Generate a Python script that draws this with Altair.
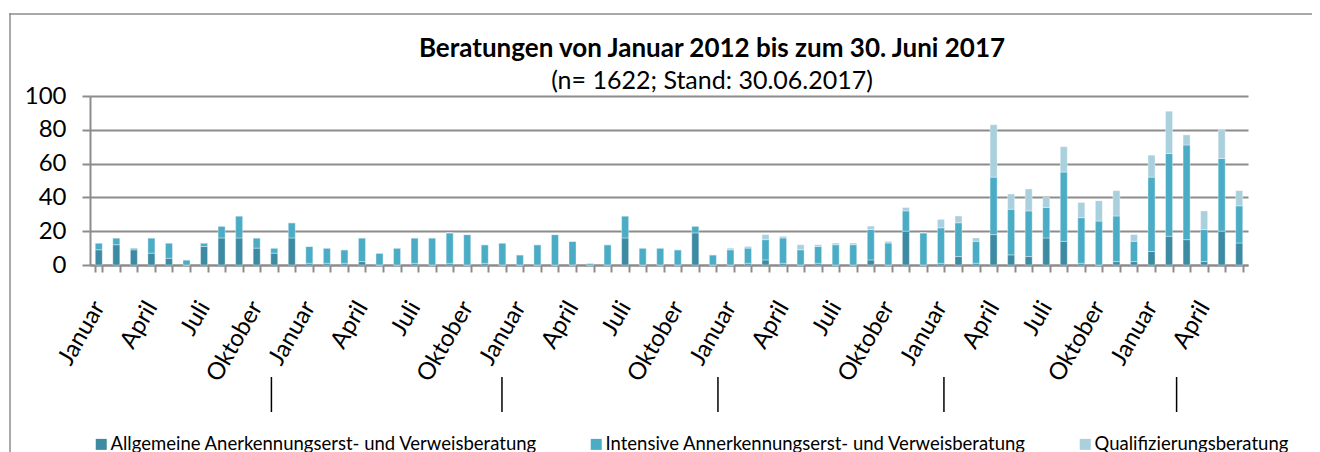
import altair as alt
import pandas as pd

# --- data -------------------------------------------------------------------
month_names = ["Januar", "Februar", "März", "April", "Mai", "Juni",
               "Juli", "August", "September", "Oktober", "November", "Dezember"]
years = [2012, 2013, 2014, 2015, 2016, 2017]

series_names = ["Allgemeine Anerkennungserst- und Verweisberatung",
                "Intensive Annerkennungserst- und Verweisberatung",
                "Qualifizierungsberatung"]

allgemeine = [9, 12, 9, 7, 4, 0, 11, 16, 16, 10, 7, 16,
              1, 1, 1, 2, 0, 0, 1, 0, 1, 0, 1, 0,
              0, 0, 0, 0, 0, 0, 16, 0, 0, 0, 19, 0,
              0, 1, 3, 1, 0, 1, 0, 0, 3, 0, 20, 0,
              1, 5, 1, 18, 6, 5, 16, 14, 1, 0, 2, 2,
              8, 17, 15, 2, 20, 13]
intensive = [4, 4, 1, 9, 9, 3, 2, 7, 13, 6, 3, 9,
             10, 9, 8, 14, 7, 10, 15, 16, 18, 18, 11, 13,
             6, 12, 18, 14, 1, 12, 13, 10, 10, 9, 4, 6,
             9, 9, 12, 15, 9, 10, 12, 12, 18, 13, 12, 19,
             21, 20, 13, 34, 27, 27, 18, 41, 27, 26, 27, 12,
             44, 49, 56, 19, 43, 22]
qualifizierung = [0, 0, 0, 0, 0, 0, 0, 0, 0, 0, 0, 0,
                  0, 0, 0, 0, 0, 0, 0, 0, 0, 0, 0, 0,
                  0, 0, 0, 0, 0, 0, 0, 0, 0, 0, 0, 0,
                  1, 1, 3, 1, 3, 1, 1, 1, 2, 1, 2, 0,
                  5, 4, 2, 31, 9, 13, 6, 15, 9, 12, 15, 4,
                  13, 25, 6, 11, 17, 9]

# month labels shown on the axis (every quarter start)
shown_labels = ["Januar", "April", "Juli", "Oktober"]

# hand-drawn year separators below the axis (position in months from the start)
separator_pos = [10.34, 23.48, 35.79, 48.67, 61.93]

title_text = "Beratungen von Januar 2012 bis zum 30. Juni 2017"
subtitle_text = "(n= 1622; Stand: 30.06.2017)"

colors = ["#3D8BA3", "#4BACC6", "#AAD0DE"]

# --- build the long table ----------------------------------------------------
months = [f"{m} {y}" for y in years for m in month_names][:len(allgemeine)]
rows = []
for s_i, (name, vals) in enumerate(zip(series_names, [allgemeine, intensive, qualifizierung])):
    for i, v in enumerate(vals):
        rows.append({"Monat": months[i], "idx": i, "Beratungsart": name,
                     "Anzahl": v, "ord": s_i})
df = pd.DataFrame(rows)

FONT = "Lato"
W, H = 1158, 169

label_expr = ("indexof(" + str(shown_labels) + ", split(datum.label, ' ')[0]) >= 0"
              " ? split(datum.label, ' ')[0] : ''")

bars = alt.Chart(df).mark_bar(stroke="#ffffff", strokeWidth=0.6, strokeOpacity=0.6).encode(
    x=alt.X("Monat:N", sort=months,
            scale=alt.Scale(paddingInner=0.6, paddingOuter=0.3),
            axis=alt.Axis(title=None, labelExpr=label_expr, labelAngle=-60,
                          labelFont=FONT, labelFontSize=24, labelColor="black",
                          labelPadding=31, tickBand="extent", tickSize=7,
                          tickColor="#8c8c8c", tickWidth=2, domainColor="#8c8c8c",
                          domainWidth=2, labelOverlap=False)),
    y=alt.Y("Anzahl:Q", stack="zero",
            scale=alt.Scale(domain=[0, 100]),
            axis=alt.Axis(title=None, values=[0, 20, 40, 60, 80, 100],
                          labelFont=FONT, labelFontSize=24, labelColor="black",
                          labelPadding=16, tickSize=8, tickColor="#8c8c8c",
                          tickWidth=2, domainColor="#8c8c8c", domainWidth=2,
                          gridColor="#8c8c8c", gridWidth=2)),
    color=alt.Color("Beratungsart:N",
                    scale=alt.Scale(domain=series_names, range=colors),
                    legend=alt.Legend(title=None, orient="none", legendX=-4, legendY=339,
                                      direction="horizontal", columns=3,
                                      symbolType="square", symbolSize=121,
                                      symbolStrokeWidth=0, symbolOffset=6,
                                      labelFont=FONT,
                                      labelFontSize=18.5, labelColor="black",
                                      columnPadding=43, labelOffset=0,
                                      labelLimit=600)),
    order=alt.Order("ord:Q", sort="ascending"),
)

sep_df = pd.DataFrame({"pos": separator_pos})
separators = alt.Chart(sep_df).mark_rule(color="black", strokeWidth=1.5).encode(
    x=alt.X("pos:Q", scale=alt.Scale(domain=[0, len(allgemeine)], nice=False, zero=True),
            axis=None),
    y=alt.value(281),
    y2=alt.value(316),
)

# outer chart-area border (only its top and left edges fall inside the picture),
# drawn as thin filled strips
frame_df = pd.DataFrame({"edge": ["top"]})
frame_top = alt.Chart(frame_df).mark_rect(fill="#8c8c8c", strokeWidth=0).encode(
    x=alt.value(-80.75), x2=alt.value(W + 80), y=alt.value(-82.75), y2=alt.value(-81.25))
frame_left = alt.Chart(frame_df).mark_rect(fill="#8c8c8c", strokeWidth=0).encode(
    x=alt.value(-80.75), x2=alt.value(-79.25), y=alt.value(-82.75), y2=alt.value(H + 200))

titles_df = pd.DataFrame({"t": [title_text, subtitle_text],
                          "kind": ["title", "subtitle"]})
title_mark = alt.Chart(titles_df).transform_filter("datum.kind == 'title'").mark_text(
    font=FONT, fontSize=26, fontWeight="bold", color="black", align="center",
    baseline="alphabetic").encode(
    text="t:N", x=alt.value(W / 2 + 43), y=alt.value(-39))
subtitle_mark = alt.Chart(titles_df).transform_filter("datum.kind == 'subtitle'").mark_text(
    font=FONT, fontSize=25, color="black", align="center",
    baseline="alphabetic").encode(
    text="t:N", x=alt.value(W / 2 + 43), y=alt.value(-7))

chart = alt.layer(frame_top, frame_left, bars, separators, title_mark, subtitle_mark).resolve_scale(
    x="independent").properties(
    width=W, height=H,
    autosize=alt.AutoSizeParams(type="none"),
    padding={"left": 82, "top": 88, "right": 64, "bottom": 190},
).configure_view(stroke=None)

chart.save("out.html", embed_options={"renderer": "svg", "actions": False})
